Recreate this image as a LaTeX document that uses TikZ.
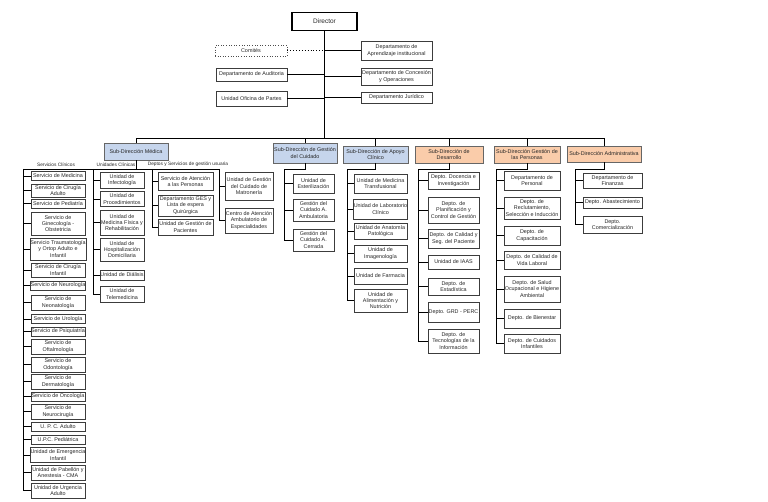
\documentclass[tikz,border=0pt]{standalone}
\usepackage{fontspec}
\setmainfont{Liberation Sans}
\definecolor{subblue}{RGB}{198,213,236}
\definecolor{subpeach}{RGB}{250,204,170}
\definecolor{bord}{RGB}{60,60,60}
\newcommand{\bx}[7][]{\node[bx,#1,minimum width={#5-#3},minimum height={#6-#4}] (#2) at ({(#3+#5)/2},{(#4+#6)/2}) {#7};}
\begin{document}
\begin{tikzpicture}[x=1pt,y=-1pt,
  bx/.style={draw=bord,line width=0.6pt,fill=white,inner sep=0.3pt,align=center,
    font=\fontsize{5.4}{6.3}\selectfont,text=black!85},
  dirbox/.style={draw=black,line width=1.5pt,font=\fontsize{6.5}{7.5}\selectfont},
  dotbox/.style={dotted,draw=black!70,line width=0.6pt},
  blu/.style={fill=subblue,draw=black!60},
  pch/.style={fill=subpeach,draw=black!60},
  conn/.style={draw=black,line width=0.9pt},
  lbl/.style={inner sep=0pt,font=\fontsize{4.8}{5.5}\selectfont,text=black!85}]
\useasboundingbox[fill=white] (0,0) rectangle (768,502);

% ---------- top ----------
\bx[dirbox]{dir}{292}{12.5}{357}{30.5}{Director}
\bx[dotbox]{com}{215}{45.5}{287}{56}{Comités}
\bx{apr}{361}{41}{432}{60}{Departamento de\\Aprendizaje institucional}
\bx{aud}{216}{68}{287}{81}{Departamento de Auditoria}
\bx{con}{361}{68}{432}{85}{Departamento de Concesión\\y Operaciones}
\bx{ofi}{216}{91}{287}{106}{Unidad Oficina de Partes}
\bx{jur}{361}{92}{432}{103}{Departamento Jurídico}

\coordinate (busL) at (136,138);
\coordinate (busR) at (604,138);
\draw[conn] (dir.south) -- (dir.south |- busL);
\draw[conn,dotted] (com.east) -- (com.east -| dir.south);
\draw[conn] (apr.west) -- (apr.west -| dir.south);
\draw[conn] (aud.east) -- (aud.east -| dir.south);
\draw[conn] (con.west) -- (con.west -| dir.south);
\draw[conn] (ofi.east) -- (ofi.east -| dir.south);
\draw[conn] (jur.west) -- (jur.west -| dir.south);
\draw[conn] (busL) -- (busR);

% ---------- sub-direcciones ----------
\bx[blu]{med}{104}{143}{168}{160}{Sub-Dirección Médica}
\bx[blu]{gc}{273}{143}{337}{163}{Sub-Dirección de Gestión\\del Cuidado}
\bx[blu]{ac}{343}{146}{408}{163}{Sub-Dirección de Apoyo\\Clínico}
\bx[pch]{des}{415}{146}{483}{163}{Sub-Dirección de\\Desarrollo}
\bx[pch]{gp}{494}{146}{560}{163}{Sub-Dirección Gestión de\\las Personas}
\bx[pch]{adm}{567}{146}{641}{162}{Sub-Dirección Administrativa}
\foreach \s in {med,gc,ac,des,gp,adm} {\draw[conn] (\s.north) -- (\s.north |- busL);}

% ---------- Medica ----------
\node[lbl] (lsc) at (56,164.5) {Servicios Clínicos};
\node[lbl] (luc) at (116,164.5) {Unidades Clínicas};
\node[lbl] (ldg) at (188,164.5) {Deptos y Servicios de gestión usuaria};

\bx{s1}{31}{171.5}{85}{180.5}{Servicio de Medicina}
\bx{s2}{31}{184}{85}{197}{Servicio de Cirugía\\Adulto}
\bx{s3}{31}{199}{85}{208.5}{Servicio de Pediatría}
\bx{s4}{31}{212.5}{85}{235}{Servicio de\\Ginecología -\\Obstetricia}
\bx{s5}{31}{238}{85}{260}{Servicio Traumatología\\y Ortop Adulto e\\Infantil}
\bx{s6}{31}{263}{85}{277}{Servicio de Cirugía\\Infantil}
\bx{s7}{31}{281}{85}{290}{Servicio de Neurología}
\bx{s8}{31}{295}{85}{310}{Servicio de\\Neonatología}
\bx{s9}{31}{314.5}{85}{323.5}{Servicio de Urología}
\bx{s10}{31}{327}{85}{336}{Servicio de Psiquiatría}
\bx{s11}{31}{339}{85}{354}{Servicio de\\Oftalmología}
\bx{s12}{31}{357}{85}{372}{Servicio de\\Odontología}
\bx{s13}{31}{374}{85}{389}{Servicio de\\Dermatología}
\bx{s14}{31}{392}{85}{401}{Servicio de Oncología}
\bx{s15}{31}{404}{85}{419}{Servicio de\\Neurocirugía}
\bx{s16}{31}{422}{85}{431}{U. P. C. Adulto}
\bx{s17}{31}{435}{85}{444}{U.P.C. Pediátrica}
\bx{s18}{31}{447.5}{85}{462.5}{Unidad de Emergencia\\Infantil}
\bx{s19}{31}{465}{85}{480}{Unidad de Pabellón y\\Anestesia - CMA}
\bx{s20}{31}{483}{85}{498}{Unidad de Urgencia\\Adulto}

\bx{u1}{100}{172.5}{144}{188}{Unidad de\\Infectología}
\bx{u2}{100}{191.5}{144}{206.5}{Unidad de\\Procedimientos}
\bx{u3}{100}{210.5}{144}{235}{Unidad de\\Medicina Física y\\Rehabilitación}
\bx{u4}{100}{238}{144}{261}{Unidad de\\Hospitalización\\Domiciliaria}
\bx{u5}{100}{270}{144}{280}{Unidad de Diálisis}
\bx{u6}{100}{286}{144}{302}{Unidad de\\Telemedicina}

\bx{g1}{158}{172.5}{213}{190}{Servicio de Atención\\a las Personas}
\bx{g2}{158}{195}{213}{216}{Departamento GES y\\Lista de espera\\Quirúrgica}
\bx{g3}{158}{219}{213}{235}{Unidad de Gestión de\\Pacientes}

\bx{m1}{225}{172.5}{273}{200}{Unidad de Gestión\\del Cuidado de\\Matronería}
\bx{m2}{225}{208}{273}{233}{Centro de Atención\\Ambulatorio de\\Especialidades}

\coordinate (mL) at (23,169);
\coordinate (mR) at (219,169);
\coordinate (c2) at (93,169);
\coordinate (c3) at (152,169);
\draw[conn] (med.south) -- (med.south |- mL);
\draw[conn] (mL) -- (mR);
\draw[conn] (mL) -- (mL |- s20.west);
\draw[conn] (c2) -- (c2 |- u6.west);
\draw[conn] (c3) -- (c3 |- g3.west);
\draw[conn] (mR) -- (mR |- m2.west);
\foreach \i in {1,...,20} {\draw[conn] (s\i.west) -- (s\i.west -| mL);}
\foreach \i in {1,...,6} {\draw[conn] (u\i.west) -- (u\i.west -| c2);}
\foreach \i in {1,2,3} {\draw[conn] (g\i.west) -- (g\i.west -| c3);}
\foreach \i in {1,2} {\draw[conn] (m\i.west) -- (m\i.west -| mR);}

% ---------- Gestion del Cuidado ----------
\bx{gc1}{293}{174}{334}{193}{Unidad de\\Esterilización}
\bx{gc2}{293}{199}{334}{221}{Gestión del\\Cuidado A.\\Ambulatoria}
\bx{gc3}{293}{229}{334}{251}{Gestión del\\Cuidado A.\\Cerrada}
\coordinate (gcv) at (284,169);
\draw[conn] (gc.south) -- (gc.south |- gcv) -- (gcv) -- (gcv |- gc3.west);
\foreach \i in {1,2,3} {\draw[conn] (gc\i.west) -- (gc\i.west -| gcv);}

% ---------- Apoyo Clinico ----------
\bx{ac1}{354}{174}{407}{193}{Unidad de Medicina\\Transfusional}
\bx{ac2}{354}{199}{407}{219}{Unidad de Laboratorio\\Clínico}
\bx{ac3}{354}{223}{407}{239}{Unidad de Anatomía\\Patológica}
\bx{ac4}{354}{245}{407}{262}{Unidad de\\Imagenología}
\bx{ac5}{354}{268}{407}{284}{Unidad de Farmacia}
\bx{ac6}{354}{289}{407}{312}{Unidad de\\Alimentación y\\Nutrición}
\coordinate (acv) at (347,169);
\draw[conn] (ac.south) -- (ac.south |- acv) -- (acv) -- (acv |- ac6.west);
\foreach \i in {1,...,6} {\draw[conn] (ac\i.west) -- (ac\i.west -| acv);}

% ---------- Desarrollo ----------
\bx{d1}{428}{172.5}{479}{189}{Depto. Docencia e\\Investigación}
\bx{d2}{428}{197}{479}{223}{Depto. de\\Planificación y\\Control de Gestión}
\bx{d3}{428}{229}{479}{248}{Depto. de Calidad y\\Seg. del Paciente}
\bx{d4}{428}{255}{479}{269}{Unidad de IAAS}
\bx{d5}{428}{278}{479}{295}{Depto. de\\Estadística}
\bx{d6}{428}{302}{479}{322}{Depto. GRD - PERC}
\bx{d7}{428}{329}{479}{353}{Depto. de\\Tecnologías de la\\Información}
\coordinate (dv) at (418,169);
\draw[conn] (des.south) -- (des.south |- dv) -- (dv) -- (dv |- d7.west);
\foreach \i in {1,...,7} {\draw[conn] (d\i.west) -- (d\i.west -| dv);}

% ---------- Gestion de las Personas ----------
\bx{p1}{504}{171}{560}{190}{Departamento de\\Personal}
\bx{p2}{504}{197}{560}{219}{Depto. de\\Reclutamiento,\\Selección e Inducción}
\bx{p3}{504}{226}{560}{245}{Depto. de\\Capacitación}
\bx{p4}{504}{251}{560}{269}{Depto. de Calidad de\\Vida Laboral}
\bx{p5}{504}{276}{560}{302}{Depto. de Salud\\Ocupacional e Higiene\\Ambiental}
\bx{p6}{504}{309}{560}{328}{Depto. de Bienestar}
\bx{p7}{504}{334}{560}{353}{Depto. de Cuidados\\Infantiles}
\coordinate (pv) at (496,169);
\draw[conn] (gp.south) -- (gp.south |- pv) -- (pv) -- (pv |- p7.west);
\foreach \i in {1,...,7} {\draw[conn] (p\i.west) -- (p\i.west -| pv);}

% ---------- Administrativa ----------
\bx{a1}{583}{173}{642}{188}{Departamento de\\Finanzas}
\bx{a2}{583}{197}{642}{208}{Depto. Abastecimiento}
\bx{a3}{583}{216}{642}{233}{Depto.\\Comercialización}
\coordinate (av) at (575,169);
\draw[conn] (adm.south) -- (adm.south |- av) -- (av) -- (av |- a3.west);
\foreach \i in {1,2,3} {\draw[conn] (a\i.west) -- (a\i.west -| av);}
\end{tikzpicture}
\end{document}
